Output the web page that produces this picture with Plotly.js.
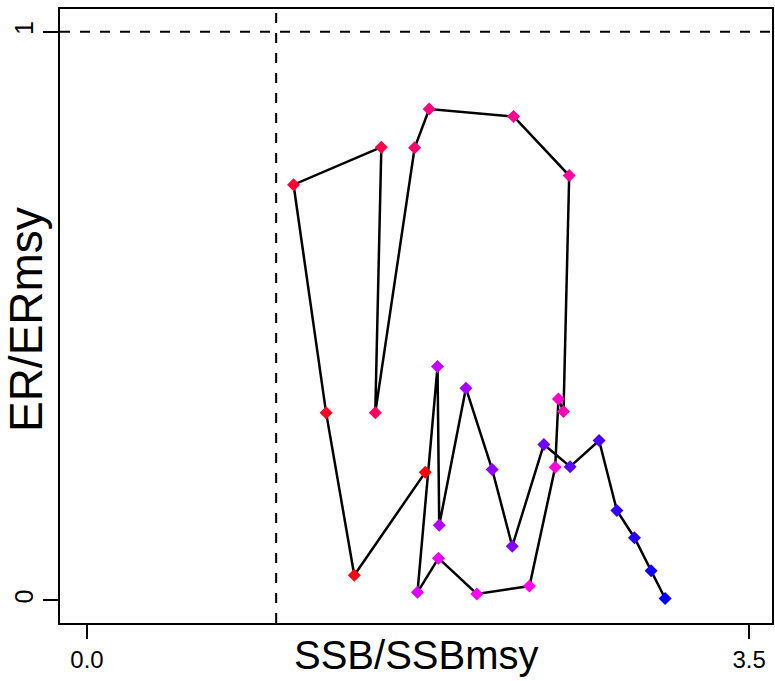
<!DOCTYPE html>
<html>
<head>
<meta charset="utf-8">
<script src="https://cdn.plot.ly/plotly-3.0.1.min.js"></script>
<style>html,body{margin:0;padding:0;background:#fff;}#chart{width:775px;height:681px;}</style>
</head>
<body>
<div id="chart"></div>
<script>
// SSB/SSBmsy per year (time order)
var ssbRatio = [1.788, 1.413, 1.264, 1.092, 1.556, 1.524, 1.732, 1.809, 2.255, 2.549,
                2.519, 2.492, 2.475, 2.339, 2.061, 1.858, 1.747, 1.853, 1.862, 2.003,
                2.142, 2.248, 2.415, 2.554, 2.707, 2.801, 2.894, 2.982, 3.056];
// ER/ERmsy per year (time order)
var erRatio = [0.225, 0.044, 0.330, 0.731, 0.797, 0.330, 0.796, 0.864, 0.851, 0.747,
               0.332, 0.354, 0.234, 0.025, 0.011, 0.074, 0.014, 0.411, 0.132, 0.373,
               0.230, 0.095, 0.274, 0.235, 0.281, 0.158, 0.110, 0.052, 0.003];
// point colours (red -> magenta -> blue over time)
var pointColors = ["#FF0000","#FF0012","#FF0024","#FF0037","#FF0049","#FF005B","#FF006D","#FF0080",
                   "#FF0092","#FF00A4","#FF00B6","#FF00C8","#FF00DB","#FF00ED","#FF00FF","#ED00FF",
                   "#DB00FF","#C800FF","#B600FF","#A400FF","#9200FF","#8000FF","#6D00FF","#5B00FF",
                   "#4900FF","#3700FF","#2400FF","#1200FF","#0000FF"];
// axis ticks
var xTickVals = [0, 3.5];
var xTickText = ["0.0", "3.5"];
var yTickVals = [0, 1];
var yTickText = ["0", "1"];
// reference levels
var ssbRef = 1;
var erRef = 1;

var FONT = "Liberation Sans, Arial, Helvetica, sans-serif";

var traces = [
  {x: ssbRatio, y: erRatio, type: "scatter", mode: "lines",
   line: {color: "#000", width: 2.5}, hoverinfo: "skip", showlegend: false},
  {x: ssbRatio, y: erRatio, type: "scatter", mode: "markers",
   marker: {symbol: "diamond", size: 10, color: pointColors, line: {width: 0}},
   showlegend: false}
];

var layout = {
  width: 775, height: 681,
  margin: {l: 59.5, r: 3, t: 9, b: 58, pad: 0},
  paper_bgcolor: "#fff", plot_bgcolor: "#fff",
  showlegend: false,
  font: {family: FONT, color: "#000"},
  xaxis: {
    range: [-0.1426, 3.621], showgrid: false, zeroline: false,
    showline: true, mirror: true, linecolor: "#000", linewidth: 2,
    tickmode: "array", tickvals: xTickVals, ticktext: xTickText,
    ticks: "outside", ticklen: 14, tickwidth: 2, tickcolor: "#000",
    tickfont: {family: FONT, size: 24, color: "#000"}
  },
  yaxis: {
    range: [-0.04, 1.04], showgrid: false, zeroline: false,
    showline: true, mirror: true, linecolor: "#000", linewidth: 2,
    tickmode: "array", tickvals: yTickVals, ticktext: yTickText,
    ticks: "outside", ticklen: 15, tickwidth: 2, tickcolor: "#000",
    tickangle: -90,
    tickfont: {family: FONT, size: 25, color: "#000"}
  },
  shapes: [
    {type: "line", xref: "paper", yref: "y", x0: 0, x1: 1, y0: erRef, y1: erRef,
     line: {color: "#000", width: 2, dash: "10px,10px"}},
    {type: "line", xref: "x", yref: "paper", x0: ssbRef, x1: ssbRef, y0: 0, y1: 1,
     line: {color: "#000", width: 2, dash: "10px,10px"}}
  ],
  annotations: [
    {text: "SSB/SSBmsy", xref: "paper", yref: "paper", x: 0.5, y: -0.052,
     xanchor: "center", yanchor: "middle", showarrow: false,
     font: {family: FONT, size: 40, color: "#000"}},
    {text: "ER/ERmsy", xref: "paper", yref: "paper", x: -0.0477, y: 0.4935,
     xanchor: "center", yanchor: "middle", showarrow: false, textangle: -90,
     font: {family: FONT, size: 46, color: "#000"}},
    {text: "0", xref: "paper", yref: "paper", x: -0.0456, y: -0.118,
     xanchor: "center", yanchor: "middle", showarrow: false, textangle: -90,
     font: {family: FONT, size: 30, color: "#000"}}
  ]
};

Plotly.newPlot("chart", traces, layout, {displayModeBar: false, staticPlot: true});
</script>
</body>
</html>
